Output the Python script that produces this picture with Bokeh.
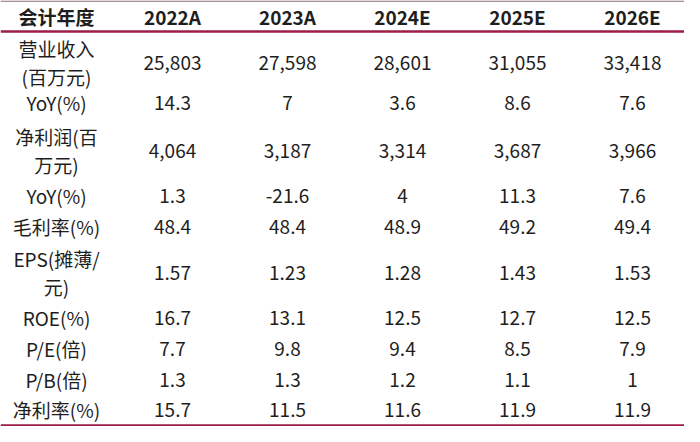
from bokeh.plotting import figure
from bokeh.models import Range1d, ColumnDataSource
from bokeh.core.properties import value
from bokeh.embed import file_html
from bokeh.resources import INLINE

# ---------------- data ----------------
header_label = "会计年度"
years = ["2022A", "2023A", "2024E", "2025E", "2026E"]

row_labels = [
    ["营业收入", "(百万元)"],
    ["YoY(%)"],
    ["净利润(百", "万元)"],
    ["YoY(%)"],
    ["毛利率(%)"],
    ["EPS(摊薄/", "元)"],
    ["ROE(%)"],
    ["P/E(倍)"],
    ["P/B(倍)"],
    ["净利率(%)"],
]

revenue = [25803, 27598, 28601, 31055, 33418]
revenue_yoy = [14.3, 7, 3.6, 8.6, 7.6]
net_profit = [4064, 3187, 3314, 3687, 3966]
net_profit_yoy = [1.3, -21.6, 4, 11.3, 7.6]
gross_margin = [48.4, 48.4, 48.9, 49.2, 49.4]
eps = [1.57, 1.23, 1.28, 1.43, 1.53]
roe = [16.7, 13.1, 12.5, 12.7, 12.5]
pe = [7.7, 9.8, 9.4, 8.5, 7.9]
pb = [1.3, 1.3, 1.2, 1.1, 1]
net_margin = [15.7, 11.5, 11.6, 11.9, 11.9]

rows = [revenue, revenue_yoy, net_profit, net_profit_yoy, gross_margin,
        eps, roe, pe, pb, net_margin]
thousands_rows = {0, 2}

# ---------------- layout ----------------
X0, X1 = 8, 692
label_x = 64
col_x0, col_step = 180, 115
header_y = 24
row_centers = [70, 110, 158, 203, 234, 280, 325, 356, 387, 417]
two_line_offset = 14
top_rule_y, head_rule_y, bottom_rule_y = 8.6, 39, 433

FONT = value("Noto Sans CJK SC")
SIZE = value("19px")
TXT = "#1e1e1e"
RED = "#9c1d47"

def fmt(v, thousands):
    if thousands:
        return f"{v:,}"
    return f"{v:g}"

p = figure(width=684, height=426, x_range=Range1d(X0, X1),
           y_range=Range1d(434, 8), output_backend="svg",
           toolbar_location=None, min_border=0)
p.axis.visible = False
p.grid.visible = False
p.outline_line_color = None
p.background_fill_color = "white"
p.border_fill_color = "white"

# rules
p.segment(x0=[X0], y0=[top_rule_y], x1=[X1], y1=[top_rule_y],
          line_color="#8a6a7a", line_width=1.3)
p.segment(x0=[X0, X0], y0=[head_rule_y, bottom_rule_y], x1=[X1, X1],
          y1=[head_rule_y, bottom_rule_y], line_color=RED, line_width=2.4)

# header
hx = [label_x] + [col_x0 + i * col_step for i in range(len(years))]
ht = [header_label] + years
p.text(x=hx, y=[header_y] * len(hx), text=ht, text_font=FONT,
       text_font_size=SIZE, text_font_style="bold", text_color=TXT,
       text_align="center", text_baseline="middle")

# body
xs, ys, ts = [], [], []
for r, (labels, vals) in enumerate(zip(row_labels, rows)):
    cy = row_centers[r]
    if len(labels) == 1:
        xs.append(label_x); ys.append(cy); ts.append(labels[0])
    else:
        xs += [label_x, label_x]
        ys += [cy - two_line_offset, cy + two_line_offset]
        ts += labels
    for i, v in enumerate(vals):
        xs.append(col_x0 + i * col_step)
        ys.append(cy)
        ts.append(fmt(v, r in thousands_rows))

src = ColumnDataSource(dict(x=xs, y=ys, t=ts))
p.text(x="x", y="y", text="t", source=src, text_font=FONT,
       text_font_size=SIZE, text_color=TXT, text_align="center",
       text_baseline="middle")

open("out.html", "w").write(file_html(p, INLINE))
